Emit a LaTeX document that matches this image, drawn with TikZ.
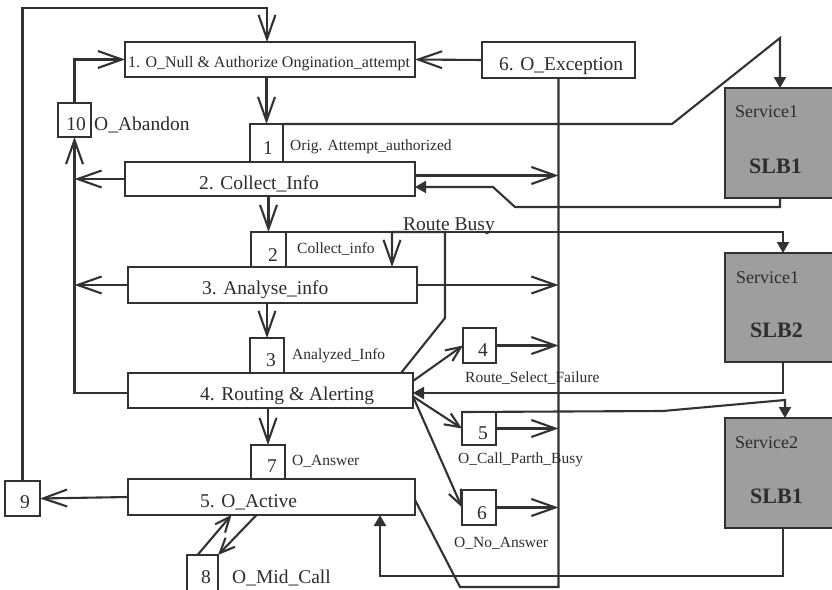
\documentclass[tikz,border=0pt]{standalone}
\usepackage{fontspec}
\setmainfont{Liberation Serif}
\usetikzlibrary{arrows.meta,calc}

\definecolor{ink}{RGB}{50,50,50}
\definecolor{txt}{RGB}{45,45,45}
\definecolor{slbfill}{RGB}{158,158,158}

\tikzset{
  box/.style={draw=ink, line width=2.2pt, rectangle, inner sep=0pt, outer sep=0pt, fill=white},
  slbbox/.style={draw=ink, line width=2.2pt, rectangle, fill=slbfill, inner sep=0pt, outer sep=0pt},
  conn/.style={draw=ink, line width=2.1pt},
  vee/.style={conn, -{Straight Barb[length=24pt,width=17pt]}},
  smallvee/.style={conn, -{Straight Barb[length=15pt,width=13pt]}},
  solidtip/.style={conn, -{Triangle[length=11pt,width=12pt]}},
  bigtxt/.style={text=txt, inner sep=0pt, font=\fontsize{19.5}{22}\selectfont},
  midtxt/.style={text=txt, inner sep=0pt, font=\fontsize{16}{19}\selectfont},
  smalltxt/.style={text=txt, inner sep=0pt, font=\fontsize{15.5}{18}\selectfont},
  servtxt/.style={text=txt, inner sep=0pt, font=\fontsize{18}{21}\selectfont},
  slbtxt/.style={text=txt, inner sep=0pt, font=\fontsize{22}{25}\selectfont\bfseries},
}

\begin{document}
\begin{tikzpicture}[x=1pt, y=-1pt]
\useasboundingbox (0,0) rectangle (832,589);
\clip (0,0) rectangle (832,589);
\fill[white] (0,0) rectangle (832,589);

% ---- point-in-call states ----
\node[box, minimum width=290pt, minimum height=35pt] (b1)  at (270,59.5) {};
\node[box, minimum width=153pt, minimum height=36pt] (exc) at (558.5,60) {};
\node[box, minimum width=290pt, minimum height=34pt] (ci)  at (270,179) {};
\node[box, minimum width=289pt, minimum height=36pt] (ai)  at (272.5,285) {};
\node[box, minimum width=285pt, minimum height=35pt] (ra)  at (270.5,390.5) {};
\node[box, minimum width=287pt, minimum height=36pt] (oa)  at (271.5,497) {};

% ---- detection point boxes ----
\node[box, minimum width=33pt, minimum height=38pt] (n1)  at (266.5,143) {};
\node[box, minimum width=35pt, minimum height=35pt] (n2)  at (268.5,249.5) {};
\node[box, minimum width=34pt, minimum height=35pt] (n3)  at (267,355.5) {};
\node[box, minimum width=34pt, minimum height=34pt] (n7)  at (268,462) {};
\node[box, minimum width=33pt, minimum height=34pt] (n10) at (74.5,120) {};
\node[box, minimum width=35pt, minimum height=35pt] (n9)  at (22.5,498.5) {};
\node[box, minimum width=31pt, minimum height=36pt] (n8)  at (202.5,573) {};
\node[box, minimum width=33pt, minimum height=35pt] (n4)  at (479.5,345.5) {};
\node[box, minimum width=34pt, minimum height=33pt] (n5)  at (479,428.5) {};
\node[box, minimum width=34pt, minimum height=35pt] (n6)  at (479,507.5) {};

% ---- service logic blocks ----
\node[slbbox, minimum width=109pt, minimum height=110pt] (s1) at (779.5,143) {};
\node[slbbox, minimum width=109pt, minimum height=109pt] (s2) at (779.5,307.5) {};
\node[slbbox, minimum width=109pt, minimum height=110pt] (s3) at (779.5,473) {};

% ---- bend points ----
\coordinate (tophook) at (267,8);
\coordinate (k1) at (672,124);
\coordinate (k2) at (780,38);
\coordinate (r1) at (515,207);
\coordinate (r2) at (493,187);
\coordinate (k3) at (783,232);
\coordinate (rbbend) at (445,318);
\coordinate (rbtop) at (445,232);
\coordinate (rbdrop) at (392,232);
\coordinate (k4) at (783,393);
\coordinate (bb1) at (460,587);
\coordinate (k5) at (663,411);
\coordinate (k6) at (785,400);
\coordinate (k7) at (380,576);

% ---- main flow ----
\draw[vee] (n9.north) |- (tophook) -- (tophook |- b1.north);
\draw[vee] (n10.north) |- (b1.west);
\draw[vee] (exc.west) -- (b1.east);
\draw[vee] (b1.south -| n1.north) -- (n1.north);
\draw[vee] (ci.south -| n2.north) -- (n2.north);
\draw[vee] (ai.south -| n3.north) -- (n3.north);
\draw[vee] (ra.south -| n7.north) -- (n7.north);

% ---- abandon / disconnect ----
\draw[vee] (ci.west) -- (ci.west -| n10.south);
\draw[vee] (ai.west) -- (ai.west -| n10.south);
\draw[vee] ([yshift=-2.5pt]ra.west) -| (n10.south);
\draw[vee] (oa.west) -- (n9.east);

% ---- triggers to and returns from service logic ----
\draw[solidtip] (n1.north east) -- (k1) -- (k2) -- (k2 |- s1.north);
\draw[solidtip] (s1.south -| k2) |- (r1) -- (r2) -- (r2 -| ci.east);
\draw[solidtip] (n2.north east) -- (k3) -- (k3 |- s2.north);
\draw[solidtip] (s2.south -| k4) -- (k4) -- (k4 -| ra.east);
\draw[solidtip] (n5.north west) -- (k5) -- (k6) -- (k6 |- s3.north);
\draw[solidtip] (s3.south -| k4) |- (k7) -- (k7 |- oa.south);

% ---- route busy ----
\draw[vee] ([xshift=-12pt]ra.north east) -- (rbbend) -- (rbtop) -- (rbdrop) -- (rbdrop |- ai.north);

% ---- routing outcomes ----
\draw[smallvee] ([yshift=9.5pt]ra.east) -- (n4.west);
\draw[smallvee] ([yshift=-6pt]ra.east) -- (n5.west);
\draw[smallvee] ([yshift=-6pt]ra.east) -- (n6.west);

% ---- exception bus ----
\draw[conn] (exc.south) -- (exc.south |- bb1) -- (bb1) -- ([yshift=-3pt]oa.east);
\draw[vee] ([yshift=3.5pt]ci.east) -- ([yshift=3.5pt]ci.east -| exc.south);
\draw[vee] (ai.east) -- (ai.east -| exc.south);
\draw[vee] (n4.east) -- (n4.east -| exc.south);
\draw[vee] (n5.east) -- (n5.east -| exc.south);
\draw[vee] (n6.east) -- (n6.east -| exc.south);

% ---- mid call ----
\draw[smallvee] ([xshift=-5pt]n8.north) -- ([xshift=-40pt]oa.south);
\draw[smallvee] ([xshift=-15pt]oa.south) -- (n8.north east);

% ---- state labels ----
\node[midtxt, anchor=base west] (t1) at (128,67) {1. O\_Null \& Authorize Ongination\_attempt};
\node[bigtxt, anchor=base west] (t6) at (499,70) {6. O\_Exception};
\node[bigtxt, anchor=base west] (t2) at (199,189) {2. Collect\_Info};
\node[bigtxt, anchor=base west] (t3) at (202,294) {3. Analyse\_info};
\node[bigtxt, anchor=base west] (t4) at (200,400) {4. Routing \& Alerting};
\node[bigtxt, anchor=base west] (t5) at (200,507) {5. O\_Active};

% ---- detection point numbers ----
\node[bigtxt, anchor=base] (d1)  at (268,154) {1};
\node[bigtxt, anchor=base] (d2)  at (273,261) {2};
\node[bigtxt, anchor=base] (d3)  at (271,366) {3};
\node[bigtxt, anchor=base] (d7)  at (272,472) {7};
\node[bigtxt, anchor=base] (d10) at (76,130) {10};
\node[bigtxt, anchor=base] (d9)  at (25,508) {9};
\node[bigtxt, anchor=base] (d8)  at (206,583) {8};
\node[bigtxt, anchor=base] (d4)  at (483,356) {4};
\node[bigtxt, anchor=base] (d5)  at (483,439) {5};
\node[bigtxt, anchor=base] (d6)  at (482,519) {6};

% ---- detection point names ----
\node[smalltxt, anchor=base west] (l1) at (290,150) {Orig. Attempt\_authorized};
\node[smalltxt, anchor=base west] (l2) at (297,253) {Collect\_info};
\node[smalltxt, anchor=base west] (l3) at (292,359) {Analyzed\_Info};
\node[smalltxt, anchor=base west] (l7) at (292,465) {O\_Answer};
\node[smalltxt, anchor=base west] (l4) at (465,382) {Route\_Select\_Failure};
\node[smalltxt, anchor=base west] (l5) at (458,463) {O\_Call\_Parth\_Busy};
\node[smalltxt, anchor=base west] (l6) at (454,547) {O\_No\_Answer};
\node[bigtxt, anchor=base west] (l10) at (94,130) {O\_Abandon};
\node[bigtxt, anchor=base west] (lrb) at (403,230) {Route Busy};
\node[bigtxt, anchor=base west] (l8) at (232,583) {O\_Mid\_Call};

% ---- service block labels ----
\node[servtxt, anchor=base west] (sv1) at (735,117) {Service1};
\node[slbtxt, anchor=base west] (sb1) at (749,173) {SLB1};
\node[servtxt, anchor=base west] (sv2) at (736,283) {Service1};
\node[slbtxt, anchor=base west] (sb2) at (750,337) {SLB2};
\node[servtxt, anchor=base west] (sv3) at (735,448) {Service2};
\node[slbtxt, anchor=base west] (sb3) at (750,503) {SLB1};
\end{tikzpicture}
\end{document}
